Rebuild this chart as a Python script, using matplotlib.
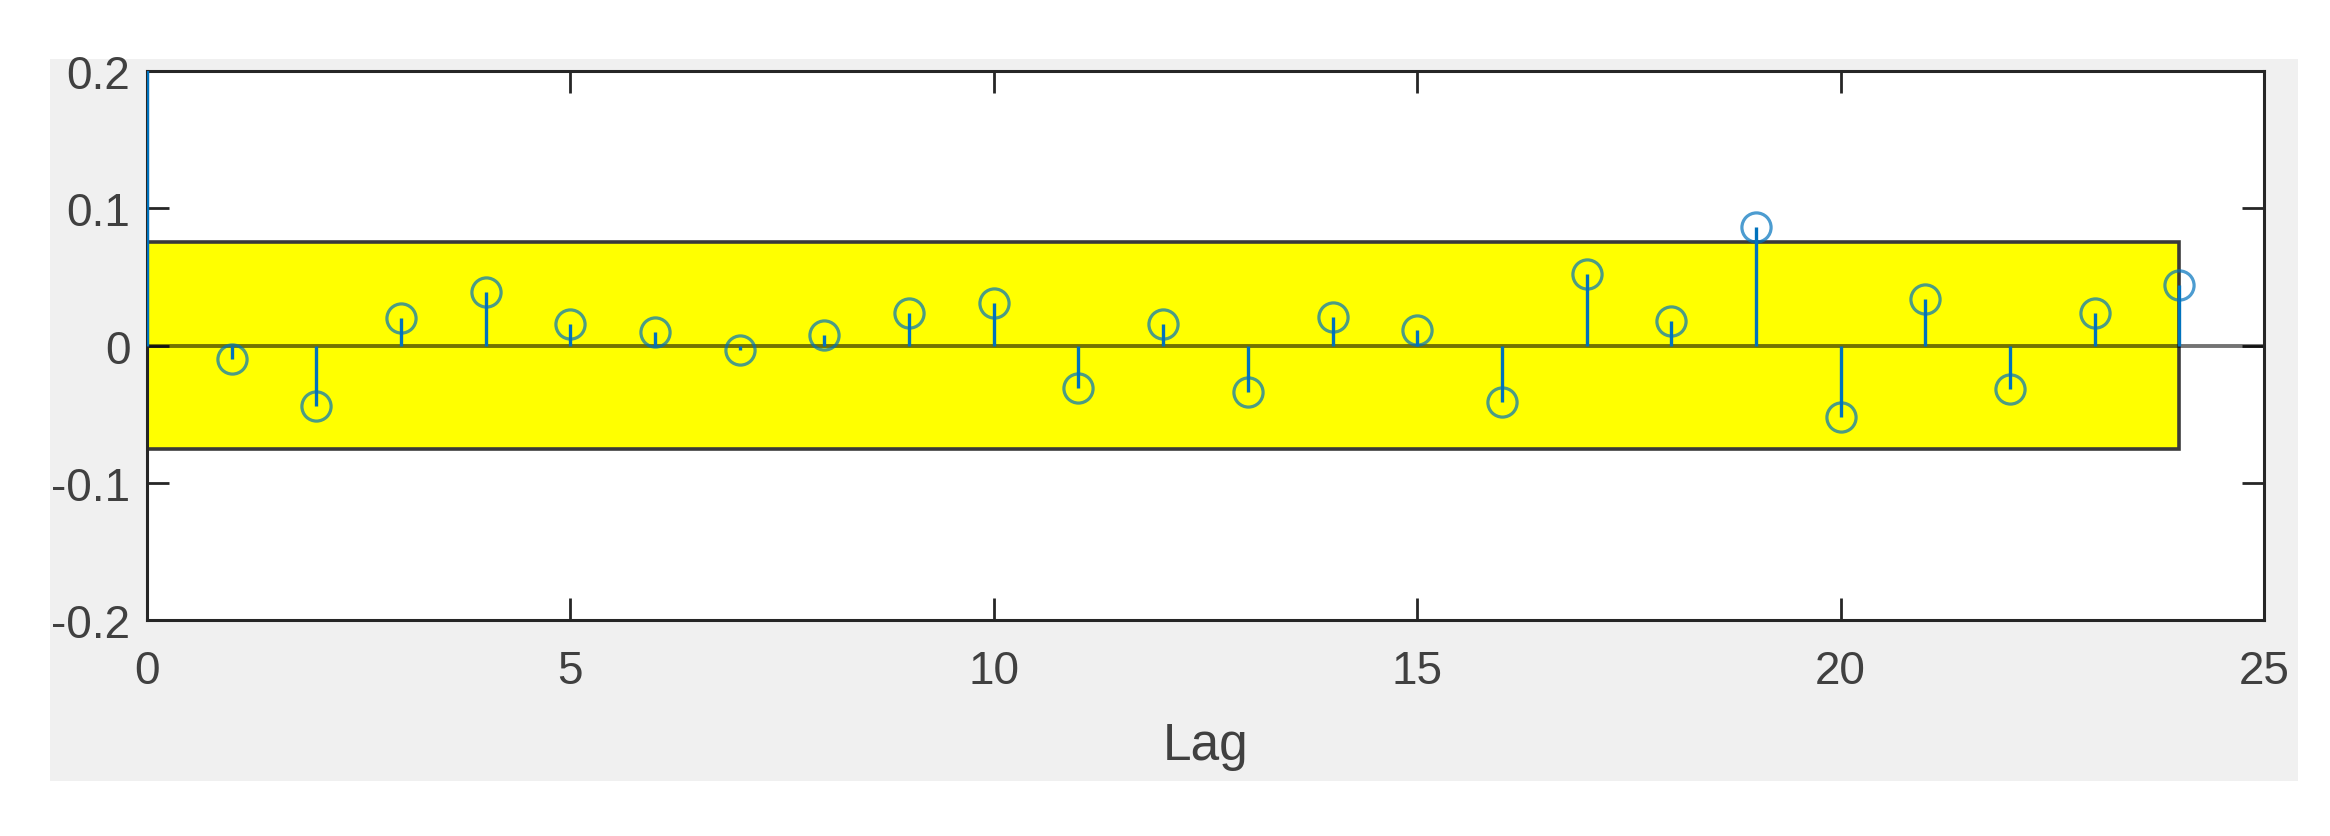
import numpy as np
import matplotlib
matplotlib.use("Agg")
import matplotlib.pyplot as plt
from matplotlib.patches import Rectangle

plt.rcParams['font.family'] = ['Liberation Sans', 'DejaVu Sans']

# sample autocorrelation values (lag 0 is 1, clipped)
lags = list(range(0, 25))
acf = [1.0, -0.010, -0.044, 0.020, 0.039, 0.016, 0.010, -0.003, 0.008,
       0.024, 0.031, -0.031, 0.016, -0.034, 0.021, 0.011, -0.041, 0.052,
       0.018, 0.086, -0.052, 0.034, -0.032, 0.024, 0.044]
conf_bound = 0.0753
x_ticks = [0, 5, 10, 15, 20, 25]
y_ticks = [-0.2, -0.1, 0, 0.1, 0.2]

blue = (0, 0.447, 0.741)
axis_gray = '#262626'

fig = plt.figure(figsize=(23.3, 8.37), dpi=100, facecolor='white')
# grey matlab-style figure background
fig.patches.append(Rectangle((50 / 2330, 1 - 782 / 837), 2248 / 2330, 722 / 837,
                             transform=fig.transFigure, facecolor='#f0f0f0',
                             edgecolor='none', zorder=-10))

ax = fig.add_axes([147 / 2330, 1 - 621 / 837, 2117 / 2330, 549 / 837])
ax.set_facecolor('white')

# stems (above the spines so the lag-0 stem shows on the left edge)
ax.vlines(lags, 0, acf, color=blue, linewidth=2.4, zorder=6)
# markers (semi transparent so they turn greenish over the yellow band)
ax.plot(lags, acf, linestyle='none', marker='o', markersize=21,
        markerfacecolor='none', markeredgecolor=blue, markeredgewidth=2.3,
        alpha=0.7, zorder=7)

# confidence band
ax.add_patch(Rectangle((0, -conf_bound), lags[-1], 2 * conf_bound,
                       facecolor='#ffff00', edgecolor='#3a3a3a',
                       linewidth=2.6, zorder=1))
ax.axhline(0, color='black', alpha=0.55, linewidth=2.8, zorder=2)

ax.set_xlim(0, 25)
ax.set_ylim(-0.2, 0.2)
ax.set_xticks(x_ticks)
ax.set_yticks(y_ticks)
ax.set_xticklabels([str(t) for t in x_ticks])
ax.set_yticklabels(['-0.2', '-0.1', '0', '0.1', '0.2'])

for s in ax.spines.values():
    s.set_color(axis_gray)
    s.set_linewidth(2.2)
    s.set_zorder(5)

ax.tick_params(direction='in', length=16, width=2, color=axis_gray,
               top=True, right=True, labelsize=33, labelcolor='#404040')
ax.tick_params(axis='y', pad=12)
ax.tick_params(axis='x', pad=21)

ax.set_xlabel('Lag', fontsize=37, color='#404040', labelpad=20)

fig.savefig('out.png', dpi=100, facecolor=fig.get_facecolor())
